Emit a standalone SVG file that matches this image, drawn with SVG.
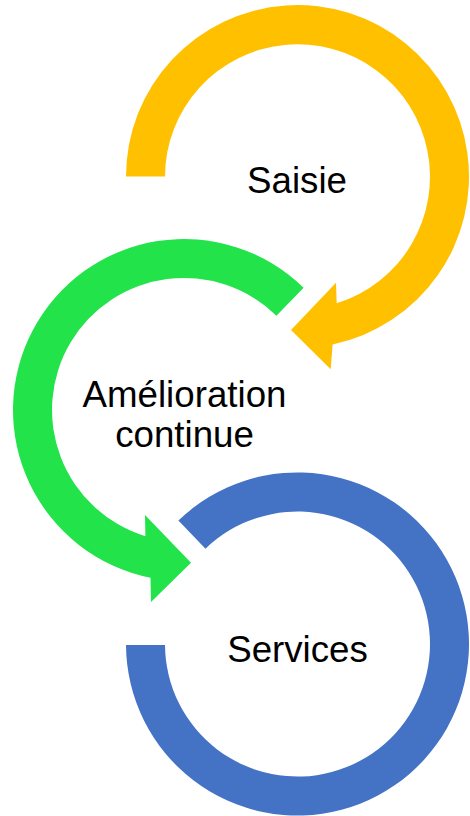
<svg xmlns="http://www.w3.org/2000/svg" width="470" height="816" viewBox="0 0 470 816">
<style>
.lbl{font-family:"Liberation Sans",Arial,sans-serif;font-size:36.7px;fill:#000;text-anchor:middle}
</style>
<rect width="470" height="816" fill="#fff"/>
<g id="connectors"></g>
<g id="saisie">
<path fill="#FFC000" d="M126 176.5 A171.5 171.5 0 1 1 332.6 344.4 L330.7 369.3 L291 330 L336 282.7 L336.7 303.3 A132.5 132.5 0 1 0 165 176.5 Z"/>
<text class="lbl" x="297" y="192.5">Saisie</text>
</g>
<g id="amelioration">
<path fill="#22E34A" d="M303.6 287.8 A171 171 0 1 0 150.5 577.7 L151 602 L191 562.7 L145 515 L145.4 536.2 A132 132 0 1 1 276.4 315.7 Z"/>
<text class="lbl" x="184.5" y="406.7">Amélioration</text>
<text class="lbl" x="184.5" y="446.7">continue</text>
</g>
<g id="services">
<path fill="#4472C4" d="M178.4 520.6 A171.5 171.5 0 1 1 126 645 L165 645 A132.5 132.5 0 1 0 205.5 548.7 Z"/>
<text class="lbl" x="297.5" y="662">Services</text>
</g>
</svg>
